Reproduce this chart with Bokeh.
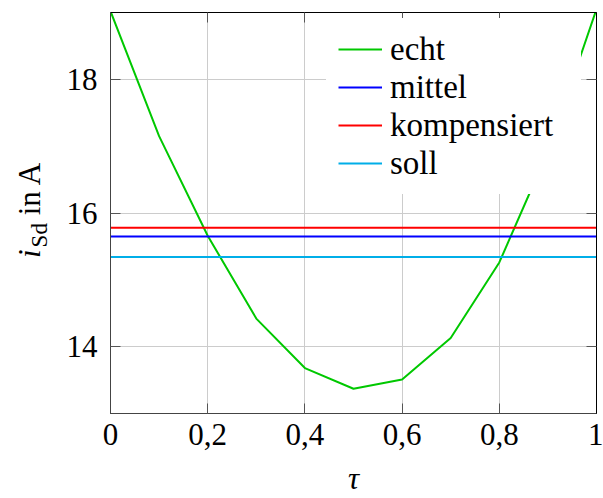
from bokeh.plotting import figure
from bokeh.layouts import row
from bokeh.models import (Legend, LegendItem, LinearAxis, FixedTicker,
                          Range1d, ColumnDataSource, Div)
from bokeh.embed import file_html
from bokeh.resources import INLINE

# ---- data ----
tau = [0.0, 0.1, 0.2, 0.3, 0.4, 0.5, 0.6, 0.7, 0.8, 0.9, 1.0]
echt = [19.02, 17.15, 15.66, 14.42, 13.68, 13.37, 13.51, 14.13, 15.26, 16.92, 19.05]
mittel = 15.65
kompensiert = 15.78
soll = 15.34
x_ticks = [0, 0.2, 0.4, 0.6, 0.8, 1]
x_tick_labels = ["0", "0,2", "0,4", "0,6", "0,8", "1"]
y_ticks = [14, 16, 18]
y_tick_labels = ["14", "16", "18"]
series_names = ["echt", "mittel", "kompensiert", "soll"]
series_colors = ["#00c800", "#0000ff", "#ff0000", "#00aee8"]
x_label = "τ"

FONT = "Liberation Serif"
FS = "31px"

p = figure(frame_width=486, frame_height=401,
           min_border_left=60, min_border_right=7,
           min_border_top=12, min_border_bottom=85,
           x_range=Range1d(0, 1), y_range=Range1d(13, 19),
           output_backend="svg", toolbar_location=None,
           background_fill_color="white", border_fill_color="white")
p.outline_line_color = "black"
p.outline_line_width = 1

# main axes
for ax in (p.xaxis[0], p.yaxis[0]):
    ax.major_tick_in = 10
    ax.major_tick_out = 0
    ax.minor_tick_line_color = None
    ax.major_tick_line_color = "#555555"
    ax.axis_line_color = "#444444"
    ax.major_label_text_font = FONT
    ax.major_label_text_font_size = FS
    ax.major_label_text_color = "black"

p.xaxis[0].ticker = FixedTicker(ticks=x_ticks)
p.xaxis[0].major_label_overrides = {t: l for t, l in zip(x_ticks, x_tick_labels)}
p.xaxis[0].major_label_standoff = 10
p.xaxis[0].axis_label = x_label
p.xaxis[0].axis_label_text_font = FONT
p.xaxis[0].axis_label_text_font_size = FS
p.xaxis[0].axis_label_text_font_style = "italic"
p.xaxis[0].axis_label_text_color = "black"
p.xaxis[0].axis_label_standoff = 13
p.yaxis[0].ticker = FixedTicker(ticks=y_ticks)
p.yaxis[0].major_label_overrides = {t: l for t, l in zip(y_ticks, y_tick_labels)}
p.yaxis[0].major_label_standoff = 13

# mirrored ticks on top and right
for loc, tk in (("above", x_ticks), ("right", y_ticks)):
    ax = LinearAxis(ticker=FixedTicker(ticks=tk))
    ax.major_tick_in = 10
    ax.major_tick_out = 0
    ax.minor_tick_line_color = None
    ax.major_tick_line_color = "#555555"
    ax.axis_line_color = "black"
    ax.major_label_text_font_size = "0px"
    ax.major_label_standoff = 0
    ax.major_label_overrides = {t: "" for t in tk}
    p.add_layout(ax, loc)

p.xgrid.ticker = FixedTicker(ticks=x_ticks)
p.ygrid.ticker = FixedTicker(ticks=y_ticks)
p.xgrid.grid_line_color = "#cccccc"
p.ygrid.grid_line_color = "#cccccc"

# lines
src = ColumnDataSource(dict(x=tau, y=echt))
r_echt = p.line("x", "y", source=src, line_color=series_colors[0], line_width=2)
renderers = [r_echt]
for val, col in zip([mittel, kompensiert, soll], series_colors[1:]):
    r = p.line([0, 1], [val, val], line_color=col, line_width=2)
    renderers.append(r)

legend = Legend(items=[LegendItem(label=n, renderers=[r]) for n, r in zip(series_names, renderers)],
                location=(216, 219),
                label_text_font=FONT, label_text_font_size="33px", label_text_color="black",
                glyph_width=44, glyph_height=30, label_standoff=8,
                label_width=179,
                label_height=38, spacing=0, padding=12, margin=0,
                border_line_alpha=0, background_fill_color="white", background_fill_alpha=1)
p.add_layout(legend, "center")

# y label: i_Sd in A, as rotated HTML text beside the figure
ylabel_html = (
    '<div style="width:498px;height:50px;transform-origin:0 0;'
    'transform:translate(0px,498px) rotate(-90deg);'
    "font-family:'Liberation Serif';font-size:31px;line-height:31px;"
    'white-space:nowrap;padding-left:240px;padding-top:14px;'
    'box-sizing:border-box;color:black;margin:0;">'
    '<i>i</i><span style="font-size:23px;position:relative;top:7px;margin-left:2px;">Sd</span>'
    ' in A</div>'
)
ylab = Div(text=ylabel_html, width=50, height=498, margin=0,
           styles={"overflow": "visible"})

layout = row(ylab, p, spacing=0)
open("out.html", "w").write(file_html(layout, INLINE))
